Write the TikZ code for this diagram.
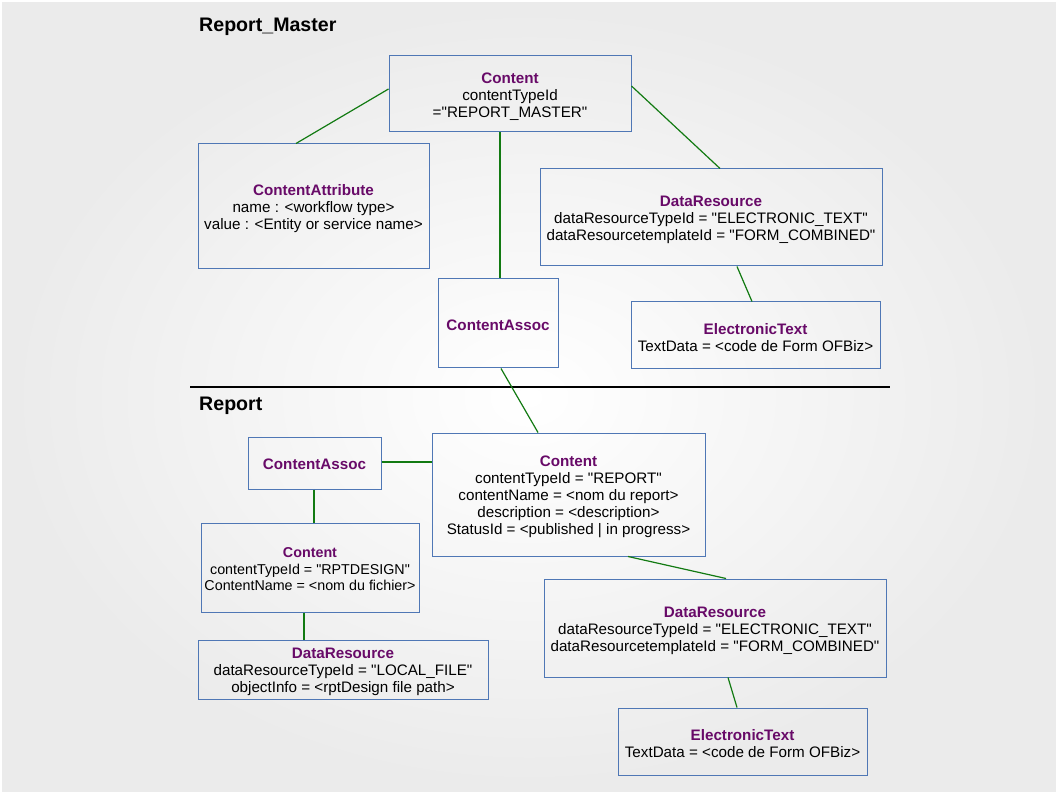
\documentclass[tikz,border=0pt]{standalone}
\usepackage{fontspec}
\newfontfamily\lsans{Liberation Sans}
\begin{document}
\begin{tikzpicture}[x=1pt,y=-1pt,
  box/.style={draw=boxblue,line width=1pt,inner sep=0pt,align=center,font=\lsans\fontsize{15.2}{17}\selectfont},
  link/.style={draw=linkgreen,line width=1.2pt},
  ttl/.style={anchor=west,font=\lsans\fontsize{19.6}{21}\selectfont\bfseries,inner sep=0pt}]
\definecolor{boxblue}{HTML}{4F77B5}
\definecolor{linkgreen}{HTML}{127A12}
\definecolor{hdr}{HTML}{680A68}
\newcommand{\hd}[2][16pt]{\rule{0pt}{#1}\textcolor{hdr}{\textbf{#2}}}
\useasboundingbox (0,0) rectangle (1058,794);
\shade[inner color=white,outer color=black!8] (0,0) rectangle (1058,794);
\draw[white,line width=4pt] (0,0) rectangle (1058,794);
% titles
\node[ttl] (t1) at (199,27) {Report\_Master};
\node[ttl] (t2) at (199,406) {Report};
\draw[black,line width=1.3pt] (190,387) coordinate (hl) -- (890,387) coordinate (hr);
% top boxes
\node[box,minimum width=242,minimum height=76] (c1) at (510,94) {\hd{Content}\\contentTypeId\\="REPORT\_MASTER"};
\node[box,minimum width=231,minimum height=125] (ca) at (313.5,206.5) {\hd{ContentAttribute}\\name : <workflow type>\\value : <Entity or service name>};
\node[box,minimum width=342,minimum height=97] (dr1) at (711,217.5) {\hd{DataResource}\\dataResourceTypeId = "ELECTRONIC\_TEXT"\\dataResourcetemplateId = "FORM\_COMBINED"};
\node[box,minimum width=120,minimum height=89] (cas1) at (498,323.5) {\hd[14pt]{ContentAssoc}};
\node[box,minimum width=249,minimum height=67] (et1) at (755.5,335.5) {\hd{ElectronicText}\\TextData = <code de Form OFBiz>};
% bottom boxes
\node[box,minimum width=133,minimum height=52] (cas2) at (314.5,463) {\hd[14pt]{ContentAssoc}};
\node[box,minimum width=273,minimum height=123] (c2) at (568.5,494.5) {\hd{Content}\\contentTypeId = "REPORT"\\contentName = <nom du report>\\description = <description>\\StatusId = <published | in progress>};
\node[box,minimum width=218,minimum height=89,font=\lsans\fontsize{14.3}{16.5}\selectfont] (c3) at (310,567.5) {\hd[14pt]{Content}\\contentTypeId = "RPTDESIGN"\\ContentName = <nom du fichier>};
\node[box,minimum width=290,minimum height=59] (dr3) at (343,669.5) {\hd{DataResource}\\dataResourceTypeId = "LOCAL\_FILE"\\objectInfo = <rptDesign file path>};
\node[box,minimum width=342,minimum height=98] (dr2) at (715,628) {\hd{DataResource}\\dataResourceTypeId = "ELECTRONIC\_TEXT"\\dataResourcetemplateId = "FORM\_COMBINED"};
\node[box,minimum width=249,minimum height=67] (et2) at (742.5,741.5) {\hd{ElectronicText}\\TextData = <code de Form OFBiz>};
% links
\draw[link] (c1.west |- 0,89) -- (ca.north -| 296,0);
\draw[link] (c1.east |- 0,86) -- (dr1.north -| 720,0);
\draw[link] (c1.south -| 500,0) -- (cas1.north -| 500,0);
\draw[link] (dr1.south -| 737,0) -- (et1.north -| 752,0);
\draw[link] (cas1.south -| 501,0) -- (c2.north -| 538,0);
\draw[link] (cas2.east |- 0,462) -- (c2.west |- 0,462);
\draw[link] (cas2.south -| 314,0) -- (c3.north -| 314,0);
\draw[link] (c3.south -| 304,0) -- (dr3.north -| 304,0);
\draw[link] (c2.south -| 628,0) -- (dr2.north -| 726,0);
\draw[link] (dr2.south -| 728,0) -- (et2.north -| 737,0);
\end{tikzpicture}
\end{document}
